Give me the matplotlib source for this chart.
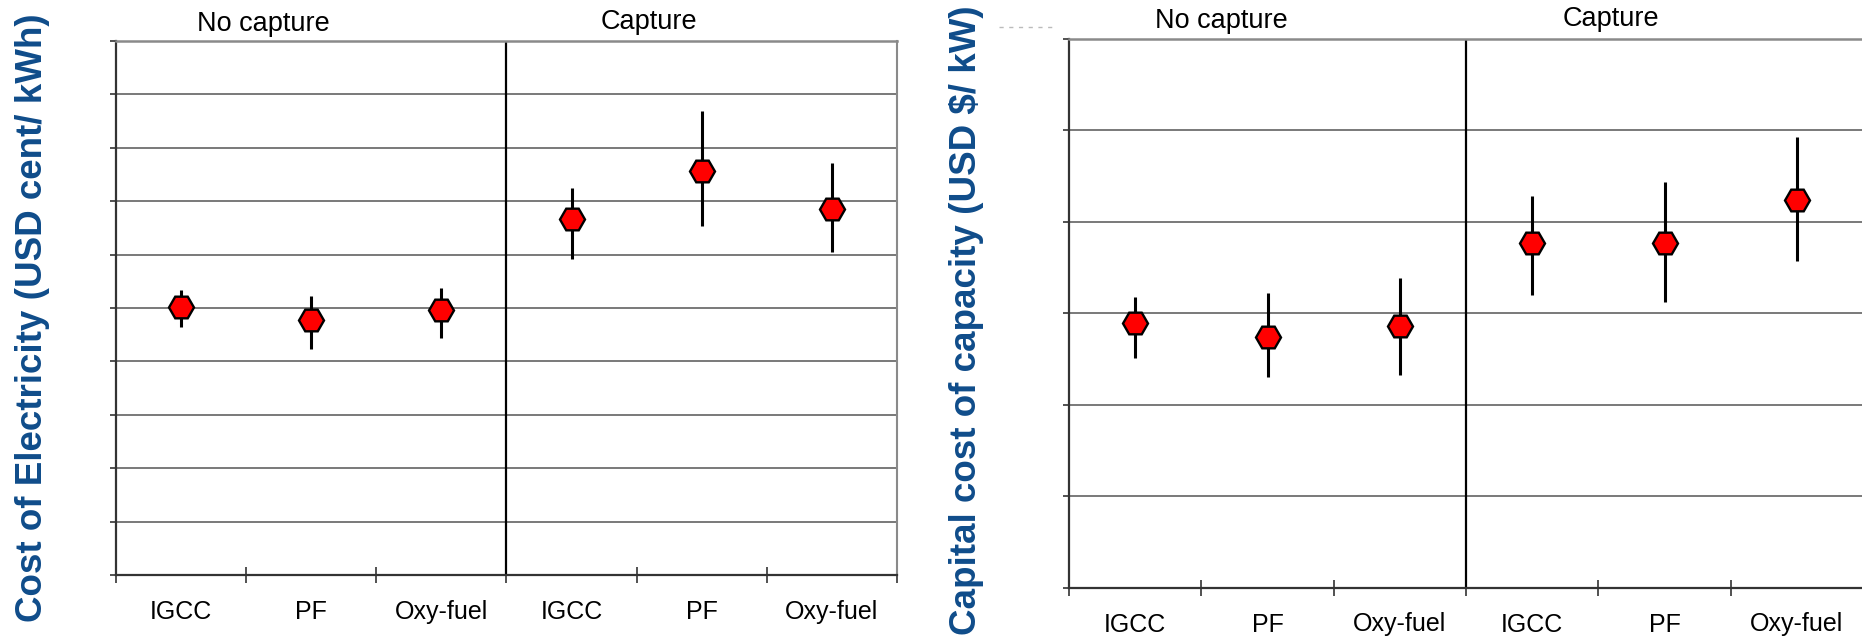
import matplotlib
matplotlib.use("Agg")
import matplotlib.pyplot as plt
from matplotlib.lines import Line2D

# ---- data ----
categories = ["IGCC", "PF", "Oxy-fuel", "IGCC", "PF", "Oxy-fuel"]
groups = ["No capture", "Capture"]

coe_mid = [5.02, 4.77, 4.97, 6.67, 7.57, 6.86]
coe_low = [4.64, 4.23, 4.44, 5.92, 6.54, 6.05]
coe_high = [5.34, 5.22, 5.38, 7.24, 8.69, 7.72]

cap_mid = [1446, 1371, 1430, 1884, 1884, 2118]
cap_low = [1257, 1151, 1163, 1601, 1560, 1785]
cap_high = [1587, 1610, 1695, 2144, 2219, 2463]

coe_ylim = (0, 10)
coe_step = 1
cap_ylim = (0, 3000)
cap_step = 500

W, H = 1862, 644
fig = plt.figure(figsize=(W / 100, H / 100), dpi=100)
fig.patch.set_facecolor("white")

label_font = ["Liberation Sans Narrow", "Liberation Sans", "DejaVu Sans"]
ylab_font = ["Liberation Sans", "DejaVu Sans"]
blue = "#0F4C8A"
grid_c = "#6E6E6E"


def px(x0, y0, x1, y1):
    return [x0 / W, 1 - y1 / H, (x1 - x0) / W, (y1 - y0) / H]


def make_panel(rect, mid, low, high, ylim, step, right_spine=True):
    ax = fig.add_axes(rect)
    n = len(mid)
    xs = list(range(n))
    ax.set_xlim(-0.5, n - 0.5)
    ax.set_ylim(*ylim)
    yt = list(range(ylim[0], ylim[1] + 1, step))
    ax.set_yticks(yt)
    ax.set_yticklabels([])
    for v in yt[1:]:
        ax.axhline(v, color=grid_c, lw=1.3, zorder=1)
    ax.axvline(2.5, color="black", lw=1.6, zorder=2)
    ax.set_xticks([i - 0.5 for i in range(n + 1)])
    ax.set_xticklabels([])
    ax.set_xticks(xs, minor=True)
    ax.set_xticklabels(categories, minor=True, fontsize=18, family=label_font)
    ax.tick_params(axis="x", which="major", direction="inout", length=12,
                   width=1.2, color="#333333")
    ax.tick_params(axis="x", which="minor", length=0, pad=18)
    ax.tick_params(axis="y", direction="out", length=4.5, width=1.2, color="#333333")
    for s in ["left", "bottom"]:
        ax.spines[s].set_color("#333333")
        ax.spines[s].set_linewidth(1.6)
    ax.spines["top"].set_color("#8A8A8A")
    ax.spines["top"].set_linewidth(1.8)
    if right_spine:
        ax.spines["right"].set_color("#8A8A8A")
        ax.spines["right"].set_linewidth(1.5)
    else:
        ax.spines["right"].set_visible(False)
    ax.vlines(xs, low, high, color="black", lw=2.2, zorder=3)
    ax.plot(xs, mid, linestyle="none", marker="H", markersize=18,
            markerfacecolor="#FF0000", markeredgecolor="black",
            markeredgewidth=1.7, zorder=4)
    return ax


ax1 = make_panel(px(116, 41, 897, 575), coe_mid, coe_low, coe_high,
                 coe_ylim, coe_step)
ax2 = make_panel(px(1069, 39, 1863, 587.5), cap_mid, cap_low, cap_high,
                 cap_ylim, cap_step, right_spine=False)

# group titles
for (xc, yb, t) in [(263, 31, groups[0]), (649, 29, groups[1]),
                    (1221, 28, groups[0]), (1611, 26, groups[1])]:
    fig.text(xc / W, 1 - yb / H, t, ha="center", va="baseline",
             fontsize=19.5, family=label_font, color="black")

# y labels
fig.text(33 / W, 1 - 318 / H, "Cost of Electricity (USD cent/ kWh)",
         rotation=90, ha="center", va="center", fontsize=26.5,
         fontweight="bold", color=blue, family=ylab_font)
fig.text(966 / W, 1 - 320 / H, "Capital cost of capacity (USD $/ kW)",
         rotation=90, ha="center", va="center", fontsize=26.5,
         fontweight="bold", color=blue, family=ylab_font)

# faint dashed artifact near the top
fig.add_artist(Line2D([999 / W, 1054 / W], [1 - 27 / H, 1 - 27 / H],
                      color="#BBBBBB", lw=1, linestyle=(0, (3, 4))))

fig.savefig("out.png", dpi=100, facecolor="white")
